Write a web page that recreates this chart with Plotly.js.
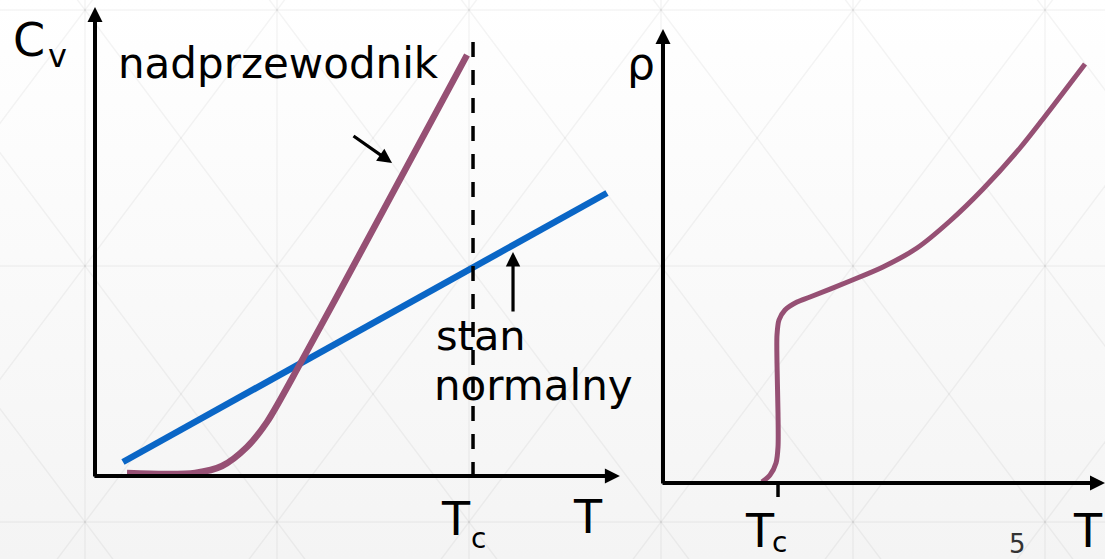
<!DOCTYPE html>
<html><head><meta charset="utf-8">
<script src="https://cdn.plot.ly/plotly-3.0.1.min.js"></script>
<style>
html,body{margin:0;padding:0;}
body{background:linear-gradient(#ffffff,#f4f4f4);width:1105px;height:559px;overflow:hidden;}
#chart{width:1105px;height:559px;}
</style></head><body><div id="chart"></div>
<script>
// ---- data (arbitrary units, each panel 0..100) ----
const superT = [6.07, 13.28, 18.98, 24.10, 28.84, 32.64, 38.90, 45.54, 70.59];
const superC = [0.64, 0.43, 0.64, 2.13, 6.18, 11.51, 23.88, 37.53, 89.77];
const normalT = [5.31, 97.15];
const normalC = [2.99, 60.34];
const tcLeft = 71.73;
const tcLineC = [92.54, -2.99];
const rhoT = [22.40, 24.21, 25.57, 26.02, 26.02, 25.79, 25.79, 26.24, 27.60, 30.32, 33.26, 42.31, 49.77, 57.47, 64.93, 72.40, 80.77, 85.97, 95.48];
const rhoV = [0.22, 1.76, 4.41, 7.93, 15.42, 26.43, 32.60, 35.90, 38.11, 39.87, 40.97, 44.49, 47.58, 51.76, 57.71, 64.76, 73.79, 80.18, 92.29];
const tcRight = 26.02;
const tcTick = [0, -3.08];

const W = 1105, H = 559;
const purple = '#965074', blue = '#0a66c6';
const FONT = 'DejaVu Sans';

const traces = [
  {x: normalT, y: normalC, xaxis:'x', yaxis:'y', mode:'lines', line:{color:blue, width:6.5}, hoverinfo:'skip'},
  {x: superT, y: superC, xaxis:'x', yaxis:'y', mode:'lines', line:{color:purple, width:6.5, shape:'spline', smoothing:0.8}, hoverinfo:'skip'},
  {x: [tcLeft, tcLeft], y: tcLineC, xaxis:'x', yaxis:'y', mode:'lines', line:{color:'#000', width:3.5, dash:'15px,13px'}, hoverinfo:'skip'},
  {x: rhoT, y: rhoV, xaxis:'x2', yaxis:'y2', mode:'lines', line:{color:purple, width:5, shape:'spline', smoothing:0.8}, hoverinfo:'skip'},
  {x: [tcRight, tcRight], y: tcTick, xaxis:'x2', yaxis:'y2', mode:'lines', line:{color:'#000', width:3.5}, hoverinfo:'skip'}
];

function txt(text, px, py, size, anchor, color) {
  return {text: text, xref:'paper', yref:'paper', x: px / W, y: 1 - py / H,
    xanchor: anchor || 'center', yanchor:'middle', showarrow:false, borderpad:0,
    font:{family: FONT, size: size, color: color || '#000'}};
}
function arrow(xr, yr, x0, y0, x1, y1, w, size) {
  return {xref: xr, yref: yr, axref: xr, ayref: yr, x: x1, y: y1, ax: x0, ay: y0,
    text:'', showarrow:true, arrowhead:2, arrowwidth:w, arrowsize:size, arrowcolor:'#000', standoff:0, startstandoff:0};
}

const annotations = [
  // axes
  arrow('x','y', -0.4, 0, 99.6, 0, 4, 0.75),
  arrow('x','y', 0, -0.45, 0, 100, 4, 0.75),
  arrow('x2','y2', -0.45, 0, 100, 0, 4, 0.75),
  arrow('x2','y2', 0, -0.45, 0, 100, 4, 0.75),
  // pointers
  arrow('x','y', 48.77, 72.71, 56.36, 66.74, 3.2, 0.9),
  arrow('x','y', 79.32, 34.75, 79.32, 47.76, 3.2, 0.9),
  // labels
  txt('C', 29, 40, 46),
  txt('v', 57, 56, 32),
  txt('nadprzewodnik', 117, 63.5, 42, 'left'),
  txt('stan', 435, 335.5, 41.5, 'left'),
  txt('normalny', 433, 385.5, 42, 'left'),
  txt('T', 456, 519, 46),
  txt('c', 478.5, 538.3, 28),
  txt('T', 588, 517, 46),
  txt('ρ', 640.5, 63.8, 44),
  txt('T', 759.5, 531, 46),
  txt('c', 779, 542.5, 28),
  txt('T', 1088, 531, 46),
  txt('5', 1018, 543.7, 26, 'center', '#333')
];

// faint background lattice
const shapes = [];
const lc = 'rgba(0,0,0,0.045)';
for (let k = 0; k < 3; k++) {
  const py = 10 + 256 * k;
  shapes.push({type:'line', xref:'paper', yref:'paper', x0:0, x1:1, y0:1-py/H, y1:1-py/H, line:{color:lc, width:1.5}, layer:'below'});
}
for (let i = -4; i < 10; i++) {
  const px = 85 + 192 * i;
  if (px >= 0 && px <= W) shapes.push({type:'line', xref:'paper', yref:'paper', x0:px/W, x1:px/W, y0:0, y1:1, line:{color:lc, width:1.5}, layer:'below'});
  const ya = -20, yb = 600;
  shapes.push({type:'line', xref:'paper', yref:'paper', x0:(px + (ya-10)*0.75)/W, y0:1-ya/H, x1:(px + (yb-10)*0.75)/W, y1:1-yb/H, line:{color:lc, width:1.5}, layer:'below'});
  shapes.push({type:'line', xref:'paper', yref:'paper', x0:(px - (ya-10)*0.75)/W, y0:1-ya/H, x1:(px - (yb-10)*0.75)/W, y1:1-yb/H, line:{color:lc, width:1.5}, layer:'below'});
}

const hidden = {visible:false, fixedrange:true, showgrid:false, zeroline:false};
const layout = {
  width: W, height: H, margin:{l:0, r:0, t:0, b:0},
  paper_bgcolor:'rgba(0,0,0,0)', plot_bgcolor:'rgba(0,0,0,0)',
  showlegend:false,
  xaxis: Object.assign({domain:[84.46/W, 622/W], range:[-2, 100]}, hidden),
  yaxis: Object.assign({domain:[0.10653, 0.98748], range:[-5, 100]}, hidden),
  xaxis2: Object.assign({domain:[654.16/W, 1], range:[-2, 100], anchor:'y2'}, hidden),
  yaxis2: Object.assign({domain:[0.09535, 0.94812], range:[-5, 100], anchor:'x2'}, hidden),
  annotations: annotations,
  shapes: shapes
};
Plotly.newPlot('chart', traces, layout, {staticPlot:true, displayModeBar:false});
</script></body></html>
